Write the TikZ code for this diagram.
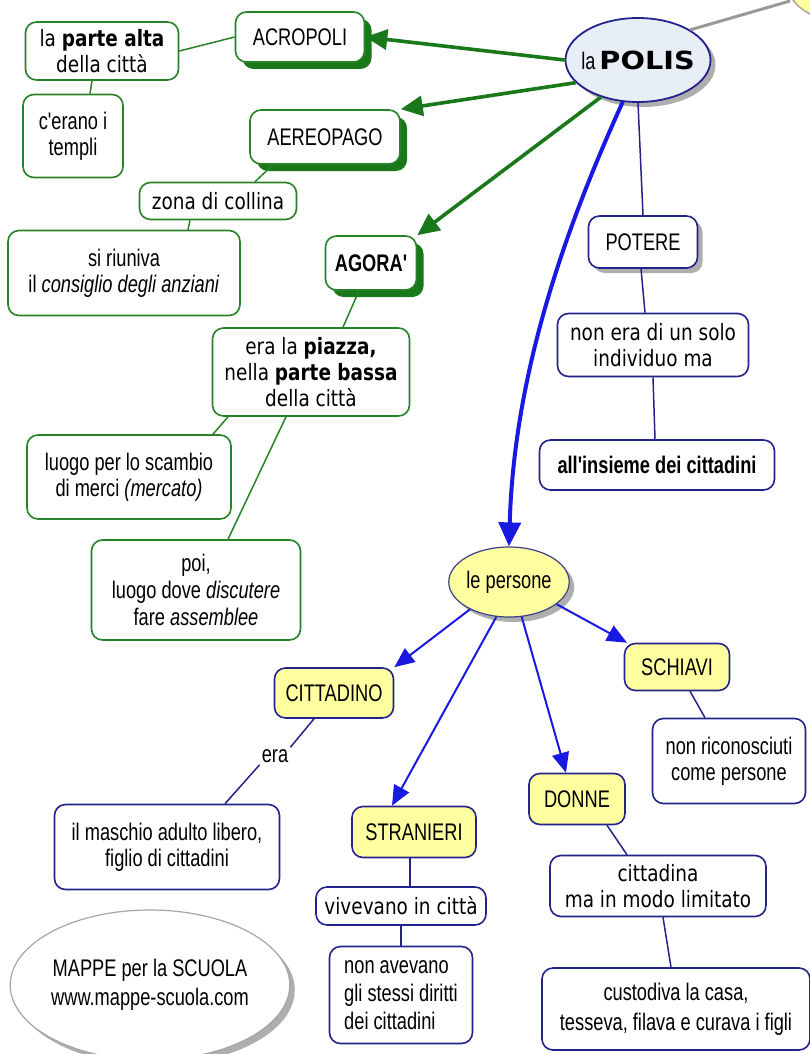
\documentclass[tikz,border=0pt]{standalone}
\usepackage{fontspec}
\setmainfont{Liberation Sans}
\newfontfamily\nar[FakeStretch=0.76]{Liberation Sans}
\newfontfamily\ver[FakeStretch=0.82]{DejaVu Sans}
\newfontfamily\verw[FakeStretch=1.15]{DejaVu Sans}
\usetikzlibrary{arrows.meta,shadows,shapes.geometric}
\definecolor{gre}{RGB}{40,130,40}
\definecolor{garr}{RGB}{25,120,25}
\definecolor{blu}{RGB}{35,35,140}
\definecolor{barr}{RGB}{25,25,225}
\definecolor{yel}{RGB}{255,255,160}
\definecolor{pol}{RGB}{232,238,246}
\tikzset{
  base/.style={draw, rounded corners=11pt, line width=1.6pt, fill=white, inner sep=0pt, align=center,
     font=\nar\fontsize{24}{26}\selectfont},
  gbox/.style={base, draw=gre},
  bbox/.style={base, draw=blu},
  ybox/.style={bbox, fill=yel},
  gshad/.style={drop shadow={shadow xshift=7pt, shadow yshift=-7pt, fill=garr, opacity=1}},
  sshad/.style={drop shadow={shadow xshift=5pt, shadow yshift=-5pt, fill=black!45, opacity=0.7}},
  gline/.style={draw=gre, line width=1.5pt},
  bline/.style={draw=blu, line width=1.5pt},
  garrow/.style={draw=garr, line width=3.6pt, -{Triangle[length=22pt,width=20pt]}},
  barrow/.style={draw=barr, line width=2pt, -{Triangle[length=20pt,width=17pt]}},
  vtxt/.style={font=\ver\fontsize{22.5}{26}\selectfont},
}
\begin{document}
\begin{tikzpicture}[x=1pt,y=-1pt]
\useasboundingbox (0,0) rectangle (810,1054);
\fill[white] (0,0) rectangle (810,1054);
% top-right partial yellow shape
\begin{scope}
\clip (0,0) rectangle (810,1054);
\draw[gray!70, line width=1.5pt, fill=yel] (850,-15) ellipse [x radius=62, y radius=38];
\end{scope}
\coordinate (tr) at (790,1);

% ---- POLIS
\node[ellipse, draw=blu, line width=1.8pt, fill=pol, minimum width=145, minimum height=84, inner xsep=-22pt, inner ysep=0pt, sshad] (polis) at (638,60)
  {{\nar\fontsize{24}{26}\selectfont la\,}{\verw\bfseries\fontsize{25}{30}\selectfont POLIS}};
\draw[gray!80, line width=3pt] (polis.30) -- (tr);

% ---- green part
\node[gbox, gshad, minimum width=129, minimum height=50] (acro) at (300,37) {ACROPOLI};
\node[gbox, minimum width=153, minimum height=58, vtxt] (alta) at (102,51) {la \textbf{parte alta}\\della città};
\node[gbox, minimum width=100, minimum height=83] (templi) at (73,136) {c'erano i\\templi};
\node[gbox, gshad, minimum width=150, minimum height=54] (aereo) at (325,137) {AEREOPAGO};
\node[gbox, minimum width=157, minimum height=37, vtxt] (zona) at (218,201) {zona di collina};
\node[gbox, minimum width=232, minimum height=85] (riuniva) at (124,273) {si riuniva\\il \textit{consiglio degli anziani}};
\node[gbox, gshad, minimum width=91, minimum height=54, font=\nar\bfseries\fontsize{24}{26}\selectfont] (agora) at (371,263) {AGORA'};
\node[gbox, minimum width=197, minimum height=88, vtxt] (piazza) at (311,372) {era la \textbf{piazza,}\\nella \textbf{parte bassa}\\della città};
\node[gbox, minimum width=204, minimum height=84] (scambio) at (129,477) {luogo per lo scambio\\di merci \textit{(mercato)}};
\node[gbox, minimum width=209, minimum height=100, font=\nar\fontsize{24}{27}\selectfont] (poi) at (196,590) {poi,\\luogo dove \textit{discutere}\\fare \textit{assemblee}};

\draw[garrow] (polis.west) -- (acro.east);
\draw[garrow] (polis.200) -- (aereo.north east);
\draw[garrow] (polis.225) -- (agora.north east);
\draw[gline] (acro.west) -- (alta.east);
\draw[gline] ([xshift=-10pt]alta.south) -- ([xshift=17pt]templi.north);
\draw[gline] ([xshift=-52pt]aereo.south) -- ([xshift=37pt]zona.north);
\draw[gline] ([xshift=-28pt]zona.south) -- ([xshift=64pt]riuniva.north);
\draw[gline] ([xshift=-12pt]agora.south) -- ([xshift=32pt]piazza.north);
\draw[gline] ([xshift=-83pt]piazza.south) -- ([xshift=84pt]scambio.north);
\draw[gline] ([xshift=-25pt]piazza.south) -- ([xshift=32pt]poi.north);

% ---- POTERE branch
\node[bbox, sshad, minimum width=109, minimum height=52] (potere) at (643,242) {POTERE};
\node[bbox, minimum width=191, minimum height=63, vtxt] (nonera) at (653,345) {non era di un solo\\individuo ma};
\node[bbox, minimum width=235, minimum height=50, font=\nar\bfseries\fontsize{24}{26}\selectfont] (insieme) at (657,465) {all'insieme dei cittadini};
\draw[bline] (polis.south) -- (potere.north);
\draw[bline] ([xshift=-2pt]potere.south) -- ([xshift=-8pt]nonera.north);
\draw[bline] (nonera.south) -- ([xshift=-2pt]insieme.north);

% ---- persone
\node[ellipse, draw=blu!70!gray, line width=1.2pt, fill=yel, minimum width=104, minimum height=70, inner sep=0pt, sshad,
  font=\nar\fontsize{24}{26}\selectfont] (persone) at (509,582) {le persone};
\draw[draw=barr, line width=4pt, -{Triangle[length=24pt,width=22pt]}] (polis.250) .. controls (560,240) and (514,380) .. (persone.north);

\node[ybox, minimum width=119, minimum height=50] (citt) at (334,693) {CITTADINO};
\node[ybox, minimum width=124, minimum height=51] (stran) at (414,832) {STRANIERI};
\node[ybox, minimum width=96, minimum height=51] (donne) at (577,799) {DONNE};
\node[ybox, minimum width=105, minimum height=47] (schiavi) at (677,667) {SCHIAVI};

\draw[barrow] (persone.215) -- (citt.north east);
\draw[barrow] (persone.250) -- ([xshift=-22pt]stran.north);
\draw[barrow] (persone.290) -- ([xshift=-11pt]donne.north);
\draw[barrow] (persone.335) -- ([xshift=-50pt]schiavi.north);

\node[font=\nar\fontsize{24}{26}\selectfont, inner sep=2pt] (era) at (275,756) {era};
\node[bbox, minimum width=225, minimum height=85] (maschio) at (167,847) {il maschio adulto libero,\\figlio di cittadini};
\draw[bline] ([xshift=-20pt]citt.south) -- (era.north east);
\draw[bline] (era.south west) -- ([xshift=58pt]maschio.north);

\node[bbox, minimum width=153, minimum height=85] (nonric) at (729,761) {non riconosciuti\\come persone};
\draw[bline] ([xshift=13pt]schiavi.south) -- ([xshift=-24pt]nonric.north);

\node[bbox, minimum width=170, minimum height=38, vtxt] (viv) at (401,906) {vivevano in città};
\node[bbox, minimum width=143, minimum height=97, align=left, font=\nar\fontsize{24}{28}\selectfont] (nonav) at (401,995) {non avevano\\gli stessi diritti\\dei cittadini};
\draw[bline] ([xshift=-4pt]stran.south) -- ([xshift=9pt]viv.north);
\draw[bline] (viv.south) -- (nonav.north);

\node[bbox, minimum width=216, minimum height=61, vtxt] (cittadina) at (658,886) {cittadina\\ma in modo limitato};
\node[bbox, minimum width=268, minimum height=82, font=\nar\fontsize{24}{30}\selectfont] (cust) at (676,1009) {custodiva la casa,\\tesseva, filava e curava i figli};
\draw[bline] ([xshift=30pt]donne.south) -- ([xshift=-31pt]cittadina.north);
\draw[bline] ([xshift=5pt]cittadina.south) -- ([xshift=-5pt]cust.north);

% ---- logo
\node[ellipse, draw=gray!70, line width=1.2pt, fill=white, minimum width=256, minimum height=150, inner sep=0pt, sshad,
  font=\nar\fontsize{24}{29}\selectfont, align=center] (logo) at (150,985) {MAPPE per la SCUOLA\\www.mappe-scuola.com};
\end{tikzpicture}
\end{document}
